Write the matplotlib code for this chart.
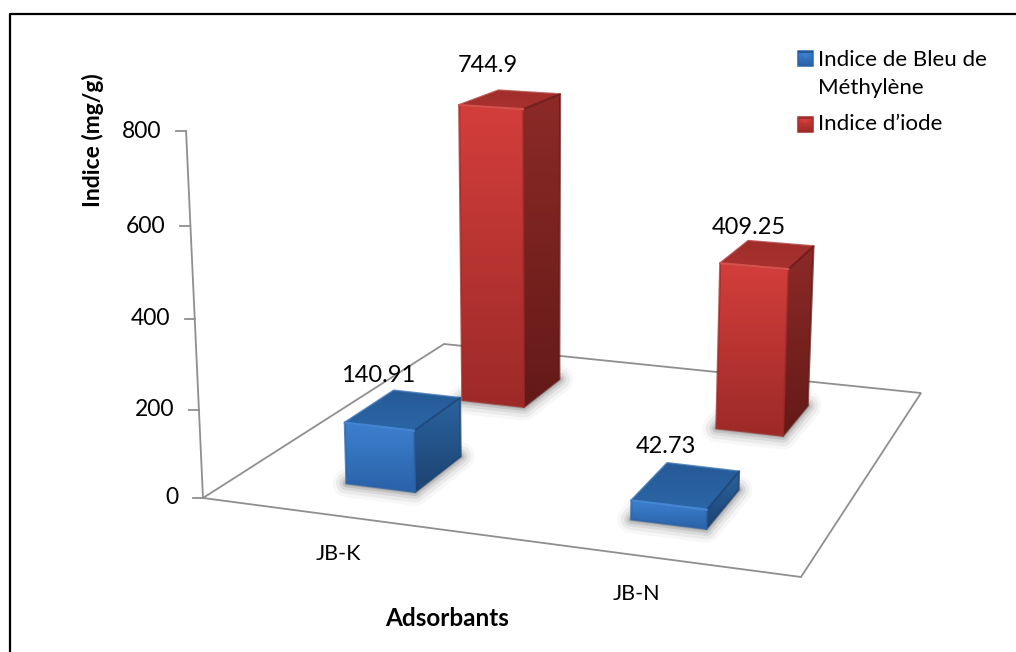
import numpy as np
import matplotlib
matplotlib.use("Agg")
import matplotlib.pyplot as plt
from matplotlib.patches import Polygon

plt.rcParams['font.family'] = ['Lato', 'DejaVu Sans']

categories = ['JB-K', 'JB-N']
series_names = ['Indice de Bleu de\nMéthylène', 'Indice d’iode']
bleu_values = [140.91, 42.73]
iode_values = [744.9, 409.25]
label_bleu = ['140.91', '42.73']
label_iode = ['744.9', '409.25']
value_ticks = [0, 200, 400, 600, 800]

BAR_HALF_X = 0.125
BAR_HALF_Y = 0.195
BAR_ROW = [0.485, 1.49]

# floor corners of the 3D box on the canvas
FLOOR_WORLD = [(0, 0), (0, 2), (2, 2), (2, 0)]
FLOOR_PIXELS = [(203, 498), (444, 344), (921, 393), (801, 577)]
AXIS_TOP = (186, 131)
VANISH = (540.0, 7800.0)

BLUE = dict(front=('#3d80cf', '#2a62a8'), top=('#255a96', '#2c66a8'),
            side=('#2b639f', '#1c4372'), shadow='#444444', edge='#4a8edb')
RED = dict(front=('#d33e3b', '#9d2a28'), top=('#a02e2b', '#a8312e'),
           side=('#8c2a27', '#641a18'), shadow='#444444', edge='#e05a55')


def floor_matrix():
    rows, rhs = [], []
    for (x, y), (u, v) in zip(FLOOR_WORLD, FLOOR_PIXELS):
        rows.append([x, y, 1, 0, 0, 0, -u * x, -u * y])
        rows.append([0, 0, 0, x, y, 1, -v * x, -v * y])
        rhs += [u, v]
    h = np.linalg.solve(np.array(rows, float), np.array(rhs, float))
    return np.array([[h[0], h[1], h[2]], [h[3], h[4], h[5]], [h[6], h[7], 1.0]])


H = floor_matrix()
z_gain = (FLOOR_PIXELS[0][1] - AXIS_TOP[1]) / (value_ticks[-1] * (AXIS_TOP[1] - VANISH[1]))
Z_COL = z_gain * np.array([VANISH[0], VANISH[1], 1.0])


def project(x, y, z=0.0):
    p = H @ np.array([x, y, 1.0]) + z * Z_COL
    return p[0] / p[2], p[1] / p[2]


def gradient_face(ax, corners, start, end, zorder):
    # vertical colour ramp clipped to the face outline
    corners = np.array(corners)
    c0 = np.array(matplotlib.colors.to_rgb(start))
    c1 = np.array(matplotlib.colors.to_rgb(end))
    ramp = np.linspace(0, 1, 64)[:, None, None]
    img = c0[None, None, :] * (1 - ramp) + c1[None, None, :] * ramp
    x0, y0 = corners.min(axis=0)
    x1, y1 = corners.max(axis=0)
    im = ax.imshow(img, extent=(x0, x1, y1, y0), aspect='auto', origin='upper',
                   zorder=zorder, interpolation='bilinear')
    outline = Polygon(corners, closed=True, transform=ax.transData)
    im.set_clip_path(outline)
    # rounded outline softens the box corners
    ax.add_patch(Polygon(corners, closed=True, fill=False, edgecolor=end, lw=1.5,
                         joinstyle='round', alpha=0.75, zorder=zorder))


def draw_bar(ax, cx, cy, value, style, zorder):
    x0, x1 = cx - BAR_HALF_X, cx + BAR_HALF_X
    y0, y1 = cy - BAR_HALF_Y, cy + BAR_HALF_Y
    # contact shadow on the floor
    base = [project(x0, y0), project(x1, y0), project(x1, y1), project(x0, y1)]
    for lw, alpha in [(20, 0.04), (15, 0.07), (10, 0.1), (6, 0.14), (3, 0.18)]:
        ax.add_patch(Polygon(base, closed=True, facecolor=style['shadow'], edgecolor=style['shadow'],
                             lw=lw, alpha=alpha, joinstyle='round', zorder=zorder - 0.05))
    fl, fr = project(x0, y0, value), project(x1, y0, value)
    bl, br = project(x0, y1, value), project(x1, y1, value)
    gradient_face(ax, [bl, br, fr, fl], *style['top'], zorder)
    gradient_face(ax, [fr, br, project(x1, y1), project(x1, y0)], *style['side'], zorder)
    gradient_face(ax, [fl, fr, project(x1, y0), project(x0, y0)], *style['front'], zorder + 0.01)
    # bevel highlight along the front top edge
    ax.plot([fl[0], fr[0]], [fl[1], fr[1]], color=style['edge'], lw=1.6, alpha=0.8,
            solid_capstyle='round', zorder=zorder + 0.02)


def legend_swatch(ax, x, y, size, style):
    gradient_face(ax, [(x, y), (x + size, y), (x + size, y + size), (x, y + size)],
                  style['front'][0], style['front'][1], 6)
    ax.add_patch(Polygon([(x, y), (x + size, y), (x + size / 2, y + size * 0.45)], closed=True,
                         facecolor=style['front'][0], edgecolor='none', alpha=0.9, zorder=6.2))
    ax.add_patch(Polygon([(x, y), (x + size, y), (x + size, y + 2), (x, y + 2)], closed=True,
                         facecolor=style['top'][0], edgecolor='none', zorder=6.3))


fig = plt.figure(figsize=(10.16, 6.52), dpi=100)
ax = fig.add_axes([0, 0, 1, 1])
ax.set_axis_off()

# chart frame, only its top and left sides fall on the canvas
ax.plot([10, 10, 1016], [652, 13.5, 13.5], color='black', lw=1.6, zorder=1)

# floor outline and value axis
grey = '#8f8f8f'
floor = [project(0, 0), project(0, 2), project(2, 2), project(2, 0)]
ax.add_patch(Polygon(floor, closed=True, fill=False, edgecolor=grey, lw=1.3, zorder=2))
ax.plot(*zip(project(0, 0), project(0, 0, value_ticks[-1])), color=grey, lw=1.3, zorder=2)
for tick in value_ticks:
    tx, ty = project(0, 0, tick)
    ax.plot([tx - 10, tx], [ty, ty], color=grey, lw=1.3, zorder=2)
    ax.text(tx - 25, ty, str(tick), ha='right', va='center', fontsize=16.5, color='black')

# back row first so the front row overlaps it
label_shift = [(-41, -27), (-32, -16), (-49, -19), (-37, -21)]
bars = []
for i in range(2):
    bars.append((i + 0.5, BAR_ROW[1], iode_values[i], RED, label_iode[i]))
for i in range(2):
    bars.append((i + 0.5, BAR_ROW[0], bleu_values[i], BLUE, label_bleu[i]))
for n, (cx, cy, value, style, text) in enumerate(bars):
    draw_bar(ax, cx, cy, value, style, 3 + n * 0.2)
    lx, ly = project(cx, cy + BAR_HALF_Y, value)
    ax.text(lx + label_shift[n][0], ly + label_shift[n][1], text, ha='center', va='center',
            fontsize=17, color='black', zorder=7)

for i, name in enumerate(categories):
    lx, ly = project(i + 0.5, 0)
    ax.text(lx - 4, ly + 38, name, ha='center', va='center', fontsize=15.5, color='black')

ax.text(93, 140, 'Indice (mg/g)', rotation=90, ha='center', va='center', fontsize=16.5, fontweight='bold')
ax.text(447.5, 618, 'Adsorbants', ha='center', va='center', fontsize=17.5, fontweight='bold')

legend_swatch(ax, 798, 51, 15, BLUE)
legend_swatch(ax, 798, 117, 15, RED)
ax.text(818, 73.5, series_names[0], ha='left', va='center', fontsize=16, linespacing=1.5)
ax.text(818, 124, series_names[1], ha='left', va='center', fontsize=16)

ax.set_xlim(0, 1016)
ax.set_ylim(652, 0)
fig.savefig('out.png', dpi=100)
